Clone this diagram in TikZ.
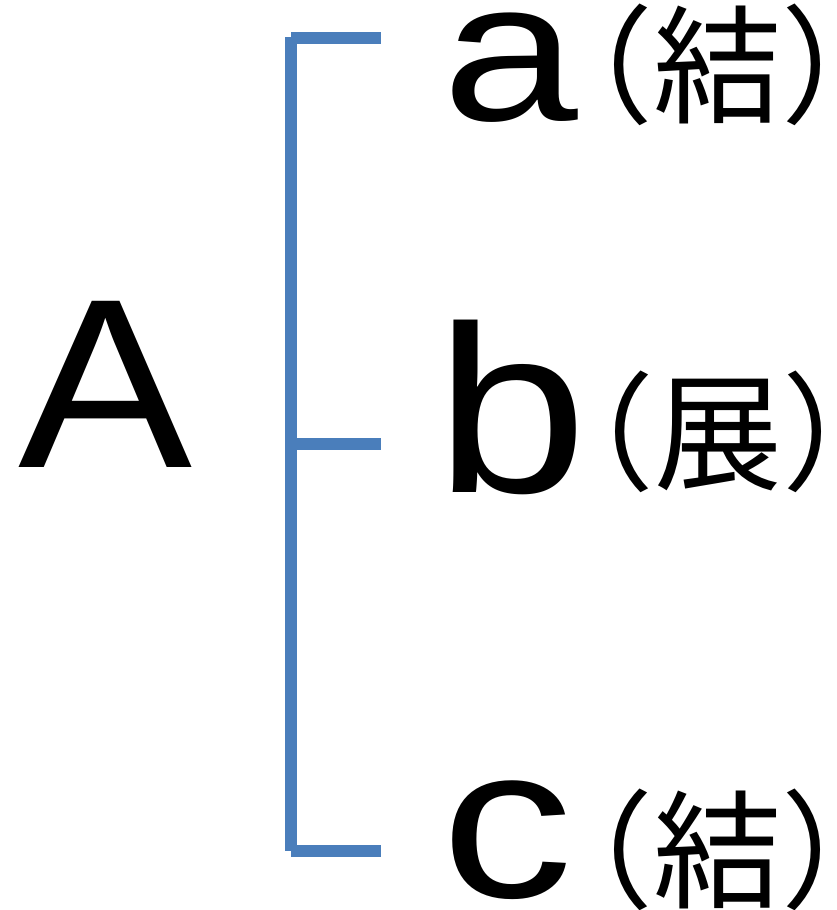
\documentclass[tikz,border=0pt]{standalone}
\usepackage{fontspec}
\setmainfont{Liberation Sans}
\newfontfamily\cjk{Noto Sans CJK JP}
\definecolor{bracketblue}{RGB}{74,126,187}
\begin{document}
\begin{tikzpicture}[x=1pt,y={(0pt,-1pt)},
  letter/.style={inner sep=0pt, anchor=base west},
  jlabel/.style={inner sep=0pt, font=\cjk\fontsize{128}{128}\selectfont},
  bracket/.style={draw=bracketblue, line width=12pt, line cap=butt}]
\useasboundingbox (0,0) rectangle (836,910);
% bracket coordinates
\coordinate (vt) at (291,37);
\coordinate (vb) at (291,851);
\coordinate (ht) at (291,37.5);
\coordinate (hte) at (381,37.5);
\coordinate (hm) at (291,444);
\coordinate (hme) at (381,444);
\coordinate (hb) at (291,851);
\coordinate (hbe) at (381,851);
\draw[bracket] (vt) -- (vb);
\draw[bracket] (ht) -- (hte);
\draw[bracket] (hm) -- (hme);
\draw[bracket] (hb) -- (hbe);
% letters
\node[letter, font=\fontsize{241.6}{241.6}\selectfont, xscale=1.08] (A) at (18,467) {A};
\node[letter, font=\fontsize{200}{200}\selectfont, xscale=1.22] (a) at (442,120) {a};
\node[letter, font=\fontsize{238}{238}\selectfont, xscale=1.15] (b) at (435.4,492) {b};
\node[letter, font=\fontsize{217}{217}\selectfont, xscale=1.215] (c) at (441.7,897.4) {c};
% japanese labels
\node[jlabel] (ja) at (717.5,64.5) {（結）};
\node[jlabel] (jb) at (718.5,431.5) {（展）};
\node[jlabel] (jc) at (717.5,849.5) {（結）};
\end{tikzpicture}
\end{document}
